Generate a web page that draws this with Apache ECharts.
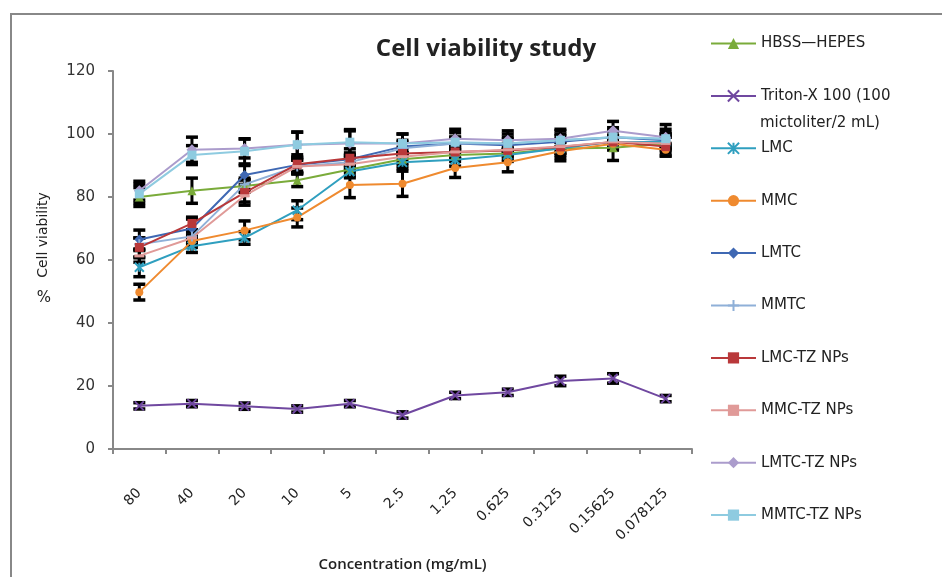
<!DOCTYPE html>
<html>
<head>
<meta charset="utf-8">
<script src="https://cdn.jsdelivr.net/npm/echarts@6/dist/echarts.min.js"></script>
<style>html,body{margin:0;padding:0;background:#fff;}#c{width:942px;height:577px;}</style>
</head>
<body>
<div id="c"></div>
<script>
const categories = ['80','40','20','10','5','2.5','1.25','0.625','0.3125','0.15625','0.078125'];
const yTicks = [0,20,40,60,80,100,120];

const hbss   = [80, 82, 83.5, 85.3, 88.7, 92, 93.3, 93.8, 95.4, 95.6, 97];
const triton = [13.7, 14.4, 13.6, 12.7, 14.4, 10.8, 17, 18, 21.6, 22.4, 16];
const lmc    = [57.7, 64.4, 67, 75.8, 88.1, 91, 91.8, 93.3, 95.5, 97.5, 97.5];
const mmc    = [49.8, 66, 69.4, 73.5, 83.8, 84.2, 89.2, 91, 94.5, 96.9, 95];
const lmtc   = [66.5, 70, 87, 90.2, 92, 96, 97, 96.4, 97.5, 99, 98];
const mmtc   = [65, 67.5, 84, 89.7, 91, 95.5, 97, 97, 98, 99, 98.5];
const lmcTz  = [64, 71.6, 81.4, 90.4, 92.3, 93.8, 94.3, 94.8, 95.9, 97.5, 96];
const mmcTz  = [61.3, 67, 80.4, 89.7, 90.4, 92.8, 94.3, 95, 96, 97.5, 97];
const lmtcTz = [82, 95, 95.4, 96.6, 97, 97, 98.5, 98, 98.5, 101, 99];
const mmtcTz = [81, 93.3, 94.5, 96.6, 97.4, 97, 97.4, 97, 98, 99, 98.5];

const errHbss   = [3, 4, 2, 2, 2, 2, 2, 2, 2, 4, 3];
const errTriton = [1, 1, 1, 1, 1, 1, 1, 1, 1.5, 1.5, 1];
const errLmc    = [3, 2, 2, 3, 2, 2, 2, 2, 3, 2, 2];
const errMmc    = [2.5, 2, 3, 3, 4, 4, 3, 3, 3, 2, 2];
const errLmtc   = [3, 3, 3, 2, 2, 2, 2, 2, 2, 2, 2];
const errMmtc   = [2, 2, 2, 2, 2, 2, 2, 2, 2, 2, 2];
const errLmcTz  = [3, 2, 4, 3, 3, 2, 2, 2, 2, 2, 3];
const errMmcTz  = [2, 2, 2, 2, 2, 2, 2, 2, 2, 2, 2];
const errLmtcTz = [3, 4, 3, 4, 4, 3, 3, 3, 3, 3, 4];
const errMmtcTz = [3, 3, 4, 4, 4, 3, 3, 3, 3, 3, 3];

const seriesNames = ['HBSS\u2014HEPES','Triton-X 100 (100 mictoliter/2 mL)','LMC','MMC','LMTC','MMTC','LMC-TZ NPs','MMC-TZ NPs','LMTC-TZ NPs','MMTC-TZ NPs'];

const X_PATH = 'path://M0,0L10,10M10,0L0,10';
const STAR_PATH = 'path://M0,0L10,10M10,0L0,10M5,0L5,10';
const PLUS_PATH = 'path://M5,0L5,10M0,5L10,5';
const DASH_PATH = 'path://M0,0L10,0L10,3L0,3Z';

const specs = [
  {data: hbss,   err: errHbss,   color: '#7aab3a', symbol: 'triangle', size: 9, strokeSym:false},
  {data: triton, err: errTriton, color: '#7048a0', symbol: X_PATH, size: 9, strokeSym:true},
  {data: lmc,    err: errLmc,    color: '#2f9fbf', symbol: STAR_PATH, size: 9, strokeSym:true},
  {data: mmc,    err: errMmc,    color: '#ef8a2f', symbol: 'circle', size: 8, strokeSym:false},
  {data: lmtc,   err: errLmtc,   color: '#3f68b3', symbol: 'diamond', size: 10, strokeSym:false},
  {data: mmtc,   err: errMmtc,   color: '#8fb0d8', symbol: PLUS_PATH, size: 10, strokeSym:true},
  {data: lmcTz,  err: errLmcTz,  color: '#b9383a', symbol: 'rect', size: 9, strokeSym:false},
  {data: mmcTz,  err: errMmcTz,  color: '#e09a98', symbol: DASH_PATH, size: [10, 3], strokeSym:false},
  {data: lmtcTz, err: errLmtcTz, color: '#ab9ccc', symbol: 'diamond', size: 11, strokeSym:false},
  {data: mmtcTz, err: errMmtcTz, color: '#8ecbe0', symbol: 'rect', size: 9, strokeSym:false}
];

const font = '"DejaVu Sans", "Liberation Sans", sans-serif';
const tfont = '"Open Sans", "Liberation Sans", sans-serif';

function errRender(params, api) {
  const x = api.value(0), v = api.value(1), e = api.value(2);
  const top = api.coord([x, v + e]);
  const bot = api.coord([x, v - e]);
  const w = 6;
  const st = {stroke: '#000', lineWidth: 3};
  const cap = {stroke: '#000', lineWidth: 3.5};
  return {type: 'group', children: [
    {type: 'line', shape: {x1: top[0], y1: top[1], x2: bot[0], y2: bot[1]}, style: st},
    {type: 'line', shape: {x1: top[0]-w, y1: top[1], x2: top[0]+w, y2: top[1]}, style: cap},
    {type: 'line', shape: {x1: bot[0]-w, y1: bot[1], x2: bot[0]+w, y2: bot[1]}, style: cap}
  ]};
}

const series = [];
specs.forEach((s, k) => {
  series.push({
    type: 'custom', name: seriesNames[k] + ' err', renderItem: errRender, z: 1,
    data: categories.map((c, i) => [i, s.data[i], s.err[i]]),
    encode: {x: 0, y: 1}, silent: true
  });
});
specs.forEach((s, k) => {
  series.push({
    type: 'line', name: seriesNames[k], data: s.data, z: 3,
    symbol: s.symbol, symbolSize: s.size, showSymbol: true,
    lineStyle: {color: s.color, width: 2},
    itemStyle: s.strokeSym ? {color: s.color, borderColor: s.color, borderWidth: 2} : {color: s.color, borderColor: s.color, borderWidth: 0},
    emphasis: {disabled: true}, animation: false
  });
});

const chart = echarts.init(document.getElementById('c'), null, {renderer: 'canvas'});
chart.setOption({
  animation: false,
  backgroundColor: '#fff',
  title: {text: 'Cell viability study', left: 481, top: 32, textAlign: 'center',
    textStyle: {fontFamily: tfont, fontSize: 24, fontWeight: 'bold', color: '#222'}},
  legend: {
    data: seriesNames, orient: 'vertical', left: 710, top: 36, padding: 0,
    itemWidth: 45, itemHeight: 14, itemGap: 37.4, selectedMode: false,
    formatter: function (n) { return n === seriesNames[1] ? 'Triton-X 100 (100' : n; },
    textStyle: {fontFamily: font, fontSize: 15, color: '#222', lineHeight: 14}
  },
  grid: {left: 113, right: 250, top: 71, bottom: 119},
  xAxis: {
    type: 'category', data: categories, boundaryGap: true,
    name: 'Concentration (mg/mL)', nameLocation: 'middle', nameGap: 108,
    nameTextStyle: {fontFamily: tfont, fontSize: 15, fontWeight: 600, color: '#222'},
    axisLine: {lineStyle: {color: '#888', width: 2}},
    axisTick: {show: true, length: 5, lineStyle: {color: '#888', width: 2}},
    axisLabel: {rotate: 45, fontFamily: font, fontSize: 14, color: '#222', margin: 42}
  },
  yAxis: {
    type: 'value', min: yTicks[0], max: yTicks[yTicks.length-1], interval: 20,
    axisLine: {show: true, lineStyle: {color: '#888', width: 2}},
    axisTick: {show: true, length: 5, lineStyle: {color: '#888', width: 2}},
    splitLine: {show: false},
    axisLabel: {fontFamily: font, fontSize: 15, color: '#333', margin: 18}
  },
  graphic: [
    {type: 'rect', shape: {x: 11, y: 14, width: 1200, height: 1200}, style: {fill: 'none', stroke: '#888', lineWidth: 2}, silent: true, z: -1},
    {type: 'text', x: 43, y: 235, rotation: Math.PI/2, style: {text: 'Cell viability', fontFamily: font, fontSize: 14, fill: '#222', align: 'center', verticalAlign: 'middle'}},
    {type: 'text', x: 44, y: 298, style: {text: '%', fontFamily: font, fontSize: 15, fill: '#222', align: 'center', verticalAlign: 'middle'}},
    {type: 'text', x: 760, y: 123, style: {text: 'mictoliter/2 mL)', fontFamily: font, fontSize: 15, fill: '#222', align: 'left', verticalAlign: 'middle'}}
  ],
  series: series
});
</script>
</body>
</html>
